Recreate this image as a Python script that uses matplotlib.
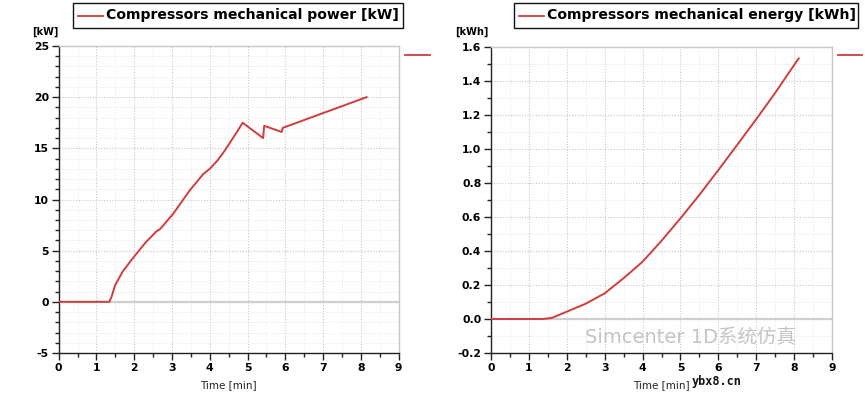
import matplotlib
matplotlib.use("Agg")
import matplotlib.pyplot as plt
from matplotlib.lines import Line2D
from matplotlib.ticker import MultipleLocator, FormatStrFormatter

# ---- data ----
power_t = [0, 1.34, 1.40, 1.49, 1.7, 1.97, 2.3, 2.59, 2.68, 3.03, 3.47, 3.83, 4.0, 4.2, 4.4, 4.7, 4.87, 5.41, 5.44, 5.9, 5.93, 8.15]
power_kw = [0, 0, 0.5, 1.6, 3.0, 4.3, 5.8, 6.9, 7.1, 8.6, 10.9, 12.5, 13.0, 13.8, 14.8, 16.5, 17.5, 16.0, 17.2, 16.6, 17.0, 20.0]

energy_t = [0, 1.37, 1.6, 2.0, 2.5, 3.0, 3.5, 4.0, 4.5, 5.0, 5.5, 6.0, 6.5, 7.0, 7.5, 8.12]
energy_kwh = [0, 0, 0.006, 0.043, 0.09, 0.151, 0.24, 0.337, 0.46, 0.592, 0.73, 0.876, 1.025, 1.175, 1.33, 1.533]

left_title = "Compressors mechanical power [kW]"
right_title = "Compressors mechanical energy [kWh]"
left_unit = "[kW]"
right_unit = "[kWh]"
x_label = "Time [min]"
watermark = "Simcenter 1D系统仿真"
watermark2 = "ybx8.cn"

LINE = "#d23c3c"
W, H = 865, 396
fig = plt.figure(figsize=(W / 100, H / 100), dpi=100)
plt.rcParams['font.family'] = ['DejaVu Sans', 'Noto Sans CJK SC']


def px_axes(x0, x1, ytop, ybot):
    return fig.add_axes([x0 / W, 1 - ybot / H, (x1 - x0) / W, (ybot - ytop) / H])


def style(ax, ylo, yhi, ymaj, ymin, fmt):
    ax.set_xlim(0, 9)
    ax.set_ylim(ylo, yhi)
    ax.xaxis.set_major_locator(MultipleLocator(1))
    ax.xaxis.set_minor_locator(MultipleLocator(0.5))
    ax.yaxis.set_major_locator(MultipleLocator(ymaj))
    ax.yaxis.set_minor_locator(MultipleLocator(ymin))
    ax.yaxis.set_major_formatter(FormatStrFormatter(fmt))
    ax.grid(which='major', color='#c8c8c8', linestyle=(0, (1, 1.5)), linewidth=0.8)
    ax.grid(which='minor', color='#e8e8e8', linestyle=(0, (1, 1.5)), linewidth=0.7)
    ax.set_axisbelow(True)
    ax.axhline(0, color='#cfcfcf', linewidth=1.6, zorder=1)
    for s in ('top', 'right'):
        ax.spines[s].set_color('#c8c8c8')
        ax.spines[s].set_linewidth(1.0)
    for s in ('left', 'bottom'):
        ax.spines[s].set_color('#222222')
        ax.spines[s].set_linewidth(1.0)
    ax.tick_params(which='major', direction='out', length=5, width=1, color='#222222',
                   labelsize=7.8, pad=2)
    ax.tick_params(which='minor', direction='out', length=3, width=1, color='#222222')
    for lab in ax.get_xticklabels() + ax.get_yticklabels():
        lab.set_fontweight('bold')
    ax.set_xlabel(x_label, fontsize=7.5, labelpad=5, color='#222222')


ax1 = px_axes(58.7, 398.7, 46, 353)
ax1.plot(power_t, power_kw, color=LINE, linewidth=1.4, zorder=3)
style(ax1, -5, 25, 5, 1, '%d')

ax2 = px_axes(491, 832, 47, 353)
ax2.plot(energy_t, energy_kwh, color=LINE, linewidth=1.4, zorder=3)
style(ax2, -0.2, 1.6, 0.2, 0.1, '%.1f')

# unit labels
fig.text(45 / W, 1 - 32 / H, left_unit, fontsize=7, fontweight='bold', ha='center', va='center')
fig.text(472 / W, 1 - 32 / H, right_unit, fontsize=7, fontweight='bold', ha='center', va='center')


def legend_box(x0, x1, title):
    ytop, ybot = 3, 28
    fig.patches.append(plt.Rectangle((x0 / W, 1 - ybot / H), (x1 - x0) / W, (ybot - ytop) / H,
                                     transform=fig.transFigure, fill=False,
                                     edgecolor='#111111', linewidth=1.0))
    ym = 1 - 15.5 / H
    fig.add_artist(Line2D([(x0 + 5) / W, (x0 + 30) / W], [ym, ym], color=LINE, linewidth=1.3))
    fig.text((x0 + 33) / W, ym, title, fontsize=10.1, fontweight='bold', ha='left', va='center')


legend_box(73, 403, left_title)
legend_box(514, 858, right_title)

# short markers to the right of each plot
for a, b in ((405, 430), (838, 862)):
    fig.add_artist(Line2D([a / W, b / W], [1 - 55 / H, 1 - 55 / H], color=LINE, linewidth=1.3))

# watermark (kept clear of the tick labels)
fig.text(585 / W, 1 - 338 / H, watermark, fontsize=14, color='#c4c4c4',
         ha='left', va='center', family=['DejaVu Sans', 'Noto Sans CJK SC'])
fig.text(692 / W, 1 - 382 / H, watermark2, fontsize=8.5, color='#111111', fontweight='bold',
         ha='left', va='center', family='DejaVu Sans Mono')

fig.savefig("out.png", dpi=100)
